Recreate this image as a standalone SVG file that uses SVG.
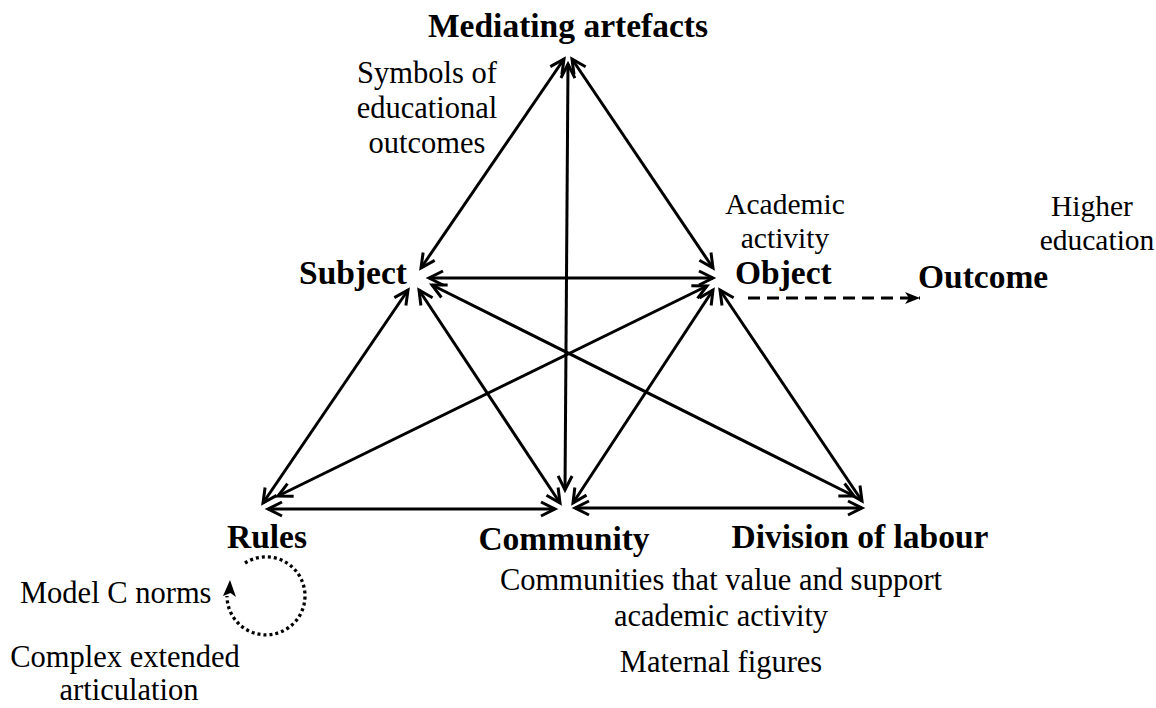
<svg xmlns="http://www.w3.org/2000/svg" width="1156" height="708" viewBox="0 0 1156 708">
  <style>
    .bold { font-family: "Liberation Serif", "Times New Roman", serif; font-weight: bold; font-size: 33.5px; fill: #000; }
    .note { font-family: "Liberation Serif", "Times New Roman", serif; font-size: 30.5px; fill: #000; }
    .tight { font-size: 29.5px; }
    .link { stroke: #000; stroke-width: 3; fill: none; marker-start: url(#openArrow); marker-end: url(#openArrow); }
    .dashed { stroke: #000; stroke-width: 3; fill: none; stroke-dasharray: 12 7; marker-end: url(#solidArrow); }
    .dotted { stroke: #000; stroke-width: 3.3; fill: none; stroke-dasharray: 3 3; }
  </style>
  <defs>
    <marker id="openArrow" markerUnits="userSpaceOnUse" viewBox="-18 -10 22 20" refX="0" refY="0" markerWidth="22" markerHeight="20" orient="auto-start-reverse">
      <path d="M -14 -7 L 0 0 L -14 7" fill="none" stroke="#000" stroke-width="3"/>
    </marker>
    <marker id="solidArrow" markerUnits="userSpaceOnUse" viewBox="-18 -8 20 16" refX="0" refY="0" markerWidth="20" markerHeight="16" orient="auto">
      <path d="M -15 -6 L 0 0 L -15 6 L -11 0 Z" fill="#000"/>
    </marker>
  </defs>

  <rect width="1156" height="708" fill="#fff"/>

  <!-- connectors: two-way links between the six corners, plus the dashed link to the outcome -->
  <g id="connectors">
    <line class="link" x1="564" y1="59" x2="421" y2="268"/>
    <line class="link" x1="568" y1="64" x2="565" y2="490"/>
    <line class="link" x1="572" y1="59" x2="713" y2="268"/>
    <line class="link" x1="429" y1="278" x2="713" y2="278"/>
    <line class="link" x1="408" y1="290" x2="263" y2="503"/>
    <line class="link" x1="419" y1="290" x2="560" y2="503"/>
    <line class="link" x1="432" y1="285" x2="854" y2="496"/>
    <line class="link" x1="707" y1="286" x2="278" y2="496"/>
    <line class="link" x1="713" y1="290" x2="573" y2="503"/>
    <line class="link" x1="720" y1="290" x2="862" y2="501"/>
    <line class="link" x1="268" y1="509" x2="555" y2="509"/>
    <line class="link" x1="575" y1="508" x2="862" y2="508"/>
    <line class="dashed" x1="748" y1="298" x2="920" y2="298"/>
  </g>

  <g id="mediating-artefacts">
    <text class="bold" x="568" y="37" text-anchor="middle">Mediating artefacts</text>
    <text class="note" text-anchor="middle"><tspan x="427" y="83">Symbols of</tspan><tspan x="427" y="118">educational</tspan><tspan x="427" y="153">outcomes</tspan></text>
  </g>

  <g id="subject">
    <text class="bold" x="407" y="284" text-anchor="end">Subject</text>
  </g>

  <g id="object">
    <text class="bold" x="735" y="284">Object</text>
    <text class="note tight" text-anchor="middle"><tspan x="785" y="214">Academic</tspan><tspan x="785" y="248">activity</tspan></text>
  </g>

  <g id="outcome">
    <text class="bold" x="918" y="288">Outcome</text>
    <text class="note tight" text-anchor="middle"><tspan x="1092" y="216">Higher</tspan><tspan x="1097" y="250">education</tspan></text>
  </g>

  <g id="rules">
    <text class="bold" x="267" y="548" text-anchor="middle">Rules</text>
    <!-- dotted self-loop, closed off by an upward-pointing filled arrowhead -->
    <path class="dotted" d="M 245 563 A 39 39 0 1 1 227 596"/>
    <path d="M 230 580 L 236 597 L 230.5 593 L 223 596 Z" fill="#000"/>
    <text class="note" x="20" y="603">Model C norms</text>
    <text class="note" text-anchor="middle"><tspan x="125" y="667">Complex extended</tspan><tspan x="129" y="700">articulation</tspan></text>
  </g>

  <g id="community">
    <text class="bold" x="564" y="550" text-anchor="middle">Community</text>
    <text class="note" text-anchor="middle"><tspan x="721" y="590">Communities that value and support</tspan><tspan x="721" y="626">academic activity</tspan><tspan x="721" y="672">Maternal figures</tspan></text>
  </g>

  <g id="division-of-labour">
    <text class="bold" x="860" y="548" text-anchor="middle">Division of labour</text>
  </g>
</svg>
